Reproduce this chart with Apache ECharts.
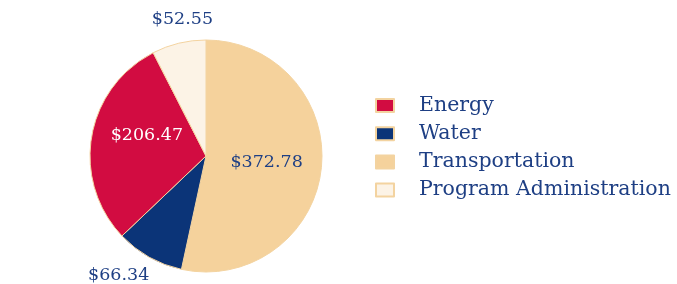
<!DOCTYPE html>
<html><head><meta charset="utf-8">
<script src="https://cdn.jsdelivr.net/npm/echarts@6/dist/echarts.min.js"></script>
<style>html,body{margin:0;padding:0;background:#fff}#c{width:677px;height:284px}</style>
</head><body><div id="c"></div>
<script>
var categories = ['Transportation', 'Water', 'Energy', 'Program Administration'];
var values = [372.78, 66.34, 206.47, 52.55];
var legendOrder = ['Energy', 'Water', 'Transportation', 'Program Administration'];
var colors = ['#F5D29C', '#0B3478', '#D20C41', '#FCF3E6'];
var labelColors = ['#1E3F84', '#1E3F84', '#FFFFFF', '#1E3F84'];
var labelPos = ['inside', 'outside', 'inside', 'outside'];

var FONT = 'DejaVu Serif';
var chart = echarts.init(document.getElementById('c'));
chart.setOption({
  animation: false,
  color: colors,
  legend: {
    data: legendOrder,
    orient: 'vertical',
    left: 370, top: 90,
    itemWidth: 18, itemHeight: 13, itemGap: 7.2,
    icon: 'rect',
    textStyle: { fontFamily: FONT, fontSize: 20.5, color: '#1E3F84', padding: [0, 0, 0, 20] }
  },
  series: [{
    type: 'pie',
    center: [206, 156],
    radius: 116,
    startAngle: 90,
    clockwise: true,
    itemStyle: { borderColor: '#F3D3A0', borderWidth: 1 },
    labelLine: { show: false, length: 12, length2: 0 },
    data: categories.map(function (n, i) {
      return {
        name: n, value: values[i],
        label: { position: labelPos[i], color: labelColors[i] }
      };
    }),
    label: {
      fontFamily: FONT, fontSize: 17.5,
      formatter: function (p) { return '$' + p.value.toFixed(2); }
    },
    labelLayout: function (p) {
      if (p.dataIndex === 3) return { dx: 42, dy: -12 };
      if (p.dataIndex === 1) return { dx: 11, dy: 8 };
      if (p.dataIndex === 2) return { dx: 1, dy: -10 };
      return {};
    }
  }]
});
</script></body></html>
